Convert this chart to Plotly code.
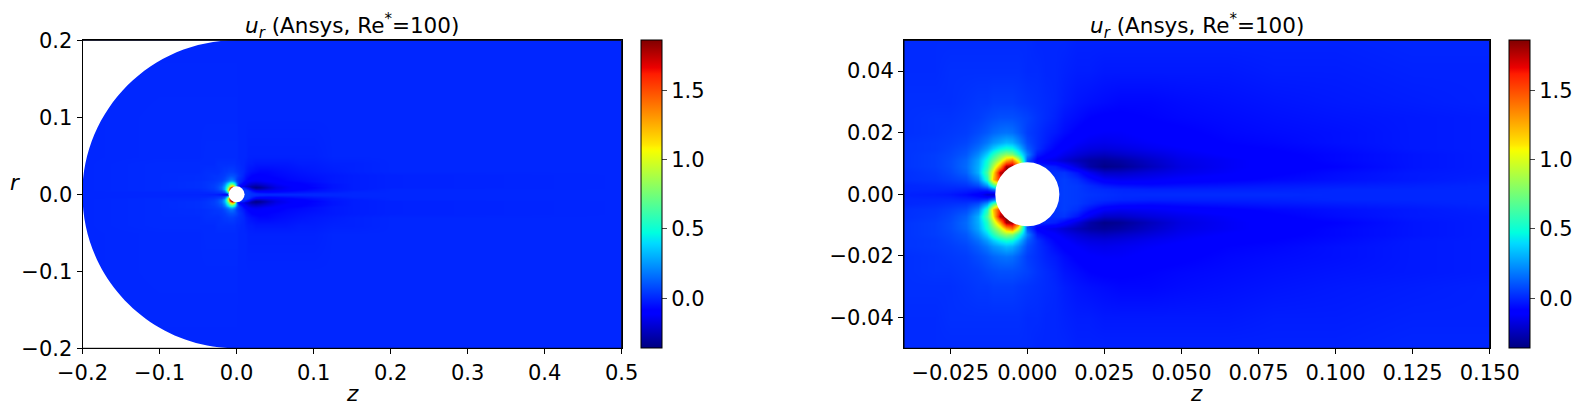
import plotly.graph_objects as go

W, H = 1582, 413

# Axial stations and radial stations (upper half; the field is mirrored about r=0)
z_stations = [-0.2, -0.1, -0.05, -0.04, -0.03, -0.025, -0.02, -0.016, -0.013, -0.011, -0.009, -0.007,
              -0.005, -0.003, 0, 0.003, 0.006, 0.009, 0.012, 0.016, 0.02, 0.025, 0.03, 0.04, 0.05,
              0.065, 0.08, 0.1, 0.125, 0.15, 0.2, 0.5]
r_stations = [0, 0.0015, 0.003, 0.005, 0.007, 0.009, 0.011, 0.013, 0.015, 0.017, 0.02, 0.025, 0.03,
              0.04, 0.05, 0.1, 0.2]

u_r0000 = [0, 0, -.005, -.01, -.02, -.03, -.06, -.1, -.2, -.22, -.2, -.2, -.2, -.2, 0, 0, 0, .03, .05, .04, .03, .02, .01, .01, .01, .01, .01, 0, 0, 0, 0, 0]
u_r0015 = [0, 0, 0, 0, 0, 0, -.01, -.02, .02, .15, .25, .3, .3, .2, 0, 0, 0, .03, .05, .04, .02, .01, 0, -.01, -.01, -.01, -.01, 0, 0, 0, 0, 0]
u_r0030 = [0, 0, 0, 0, .01, .02, .03, .08, .25, .6, .9, .9, .6, .2, 0, 0, 0, .03, .05, .04, .01, -.03, -.05, -.06, -.05, -.04, -.03, -.02, -.01, 0, 0, 0]
u_r0050 = [0, .01, .01, .02, .03, .05, .08, .2, .55, 1.2, 1.6, 1.6, 1, .3, 0, 0, 0, .03, .05, .02, -.05, -.12, -.14, -.13, -.11, -.09, -.07, -.05, -.03, -.01, 0, 0]
u_r0070 = [0, .01, .01, .02, .04, .07, .13, .3, .65, 1.1, 1.75, 1.85, 1.8, .5, 0, 0, 0, .02, .03, -.04, -.14, -.22, -.22, -.18, -.15, -.12, -.09, -.06, -.03, -.02, 0, 0]
u_r0090 = [0, .01, .02, .03, .05, .08, .15, .3, .55, .9, 1.3, 1.8, 1.8, 1.5, 0, 0, 0, -.02, -.08, -.18, -.28, -.34, -.32, -.24, -.17, -.13, -.1, -.08, -.04, -.02, -.01, 0]
u_r0110 = [0, .01, .02, .03, .05, .08, .14, .28, .5, .72, .95, 1.25, 1.4, 1.0, .1, -.1, -.14, -.16, -.2, -.25, -.29, -.31, -.29, -.22, -.16, -.13, -.1, -.07, -.04, -.02, -.01, 0]
u_r0130 = [0, .01, .02, .03, .05, .07, .11, .22, .38, .55, .72, .82, .78, .55, .2, -.03, -.08, -.11, -.15, -.19, -.22, -.24, -.22, -.18, -.14, -.11, -.09, -.07, -.04, -.02, -.01, 0]
u_r0150 = [0, .01, .02, .03, .04, .06, .09, .16, .26, .36, .45, .5, .48, .35, .12, .02, -.04, -.08, -.11, -.15, -.17, -.18, -.17, -.14, -.12, -.09, -.08, -.06, -.03, -.02, -.01, 0]
u_r0170 = [0, .01, .02, .03, .04, .05, .07, .12, .18, .24, .28, .32, .3, .22, .08, .02, -.02, -.06, -.09, -.12, -.14, -.15, -.14, -.12, -.1, -.08, -.07, -.05, -.03, -.02, -.01, 0]
u_r0200 = [0, .01, .015, .02, .03, .04, .05, .08, .11, .14, .16, .17, .16, .12, .05, .02, -.01, -.03, -.06, -.09, -.11, -.12, -.12, -.1, -.09, -.07, -.06, -.05, -.03, -.02, -.01, 0]
u_r0250 = [0, .01, .015, .02, .03, .03, .04, .05, .07, .08, .09, .09, .09, .08, .06, .03, .01, -.01, -.04, -.06, -.08, -.09, -.09, -.08, -.07, -.06, -.05, -.04, -.03, -.02, -.01, 0]
u_r0300 = [0, .01, .01, .02, .02, .02, .03, .04, .04, .05, .05, .05, .05, .04, .03, .02, .01, 0, -.02, -.04, -.05, -.06, -.07, -.07, -.06, -.05, -.04, -.03, -.02, -.01, 0, 0]
u_r0400 = [0, .01, .01, .01, .01, .02, .02, .02, .02, .02, .02, .02, .02, .02, .01, .01, 0, 0, -.01, -.02, -.02, -.03, -.03, -.03, -.03, -.03, -.02, -.02, -.01, -.01, 0, 0]
u_r0500 = [0, .005, .005, .01, .01, .01, .01, .01, .01, .01, .01, .01, .01, .01, .01, 0, 0, 0, 0, -.01, -.01, -.01, -.01, -.01, -.01, -.01, -.01, -.01, 0, 0, 0, 0]
u_r1000 = [0, .005, .005, .005, .005, .005, .005, .005, .005, .005, .005, .005, .005, .005, .005, 0, 0, 0, 0, 0, 0, 0, 0, 0, 0, 0, 0, 0, 0, 0, 0, 0]
u_r2000 = [0] * 32

upper_rows = [u_r0000, u_r0015, u_r0030, u_r0050, u_r0070, u_r0090, u_r0110, u_r0130, u_r0150,
              u_r0170, u_r0200, u_r0250, u_r0300, u_r0400, u_r0500, u_r1000, u_r2000]

r_all = [-v for v in r_stations[:0:-1]] + r_stations
u_all = upper_rows[:0:-1] + upper_rows

Z_MIN, Z_MAX = -0.36, 1.86
CYLINDER_R = 0.0104
DOMAIN_R = 0.2
title_text = "<i>u</i><sub><i>r</i></sub> (Ansys, Re<sup>*</sup>=100)"

# matplotlib "jet"
jet = [(0, 0, 0, 127.5), (.11, 0, 0, 255), (.125, 0, 0, 255), (.34, 0, 219, 255), (.35, 0, 229, 246),
       (.375, 0, 255, 223), (.64, 246, 255, 0), (.65, 255, 244, 0), (.66, 255, 231, 0), (.89, 255, 28, 0),
       (.91, 236, 0, 0), (1, 127.5, 0, 0)]
jet = [[p, f"rgb({r},{g},{b})"] for p, r, g, b in jet]

FONT = "DejaVu Sans"
TICK = 21
TITLE = 21.5

ML, MR, MT, MB = 40, 5, 5, 5
PW, PH = W - ML - MR, H - MT - MB
def fx(px):
    return (px - ML) / PW
def fy(py):
    return (H - MB - py) / PH

top, bottom = 40.3, 348.3
ydom = [fy(bottom), fy(top)]
ax1 = (82.5, 621.7)
ax2 = (904.0, 1489.7)
cb1 = 641.0
cb2 = 1509.0

fig = go.Figure()
for cb, xa, ya in [(cb1, "x", "y"), (cb2, "x2", "y2")]:
    fig.add_trace(go.Heatmap(
        x=z_stations, y=r_all, z=u_all, xaxis=xa, yaxis=ya, zmin=Z_MIN, zmax=Z_MAX,
        colorscale=jet, zsmooth="best", hoverinfo="skip",
        colorbar=dict(x=fx(cb), xanchor="left", xpad=0, ypad=0, y=ydom[0], yanchor="bottom",
                      len=ydom[1] - ydom[0], lenmode="fraction", thickness=20.7, thicknessmode="pixels",
                      outlinewidth=1, outlinecolor="black", ticks="outside", ticklen=5, tickwidth=1,
                      tickvals=[0, .5, 1, 1.5], tickformat=".1f", tickfont=dict(size=TICK, family=FONT, color="black")),
    ))

axis_common = dict(showgrid=False, zeroline=False, showline=True, mirror=True, linecolor="black", linewidth=1,
                   ticks="outside", ticklen=5, tickwidth=1, tickcolor="black",
                   tickfont=dict(size=TICK, family=FONT, color="black"))

fig.update_layout(
    width=W, height=H, margin=dict(l=ML, r=MR, t=MT, b=MB, autoexpand=False), paper_bgcolor="white",
    plot_bgcolor="rgb(0,30,255)", showlegend=False,
    xaxis=dict(domain=[fx(ax1[0]), fx(ax1[1])], range=[-0.2, 0.5], dtick=0.1, tick0=0, tickformat=".1f", **axis_common),
    yaxis=dict(domain=ydom, range=[-0.2, 0.2], dtick=0.1, tick0=0, tickformat=".1f", **axis_common),
    xaxis2=dict(domain=[fx(ax2[0]), fx(ax2[1])], range=[-0.04, 0.15], dtick=0.025, tick0=0, tickformat=".3f", anchor="y2", **axis_common),
    yaxis2=dict(domain=ydom, range=[-0.05, 0.05], dtick=0.02, tick0=0, tickformat=".2f", anchor="x2", **axis_common),
)

# white cylinder on both panels
for xr, yr in [("x", "y"), ("x2", "y2")]:
    fig.add_shape(type="circle", xref=xr, yref=yr, x0=-CYLINDER_R, x1=CYLINDER_R, y0=-CYLINDER_R, y1=CYLINDER_R,
                  fillcolor="white", line_width=0, layer="above")

# white corners outside the computational domain on the left panel
R = DOMAIN_R
k = 0.5523 * R
for s in (1, -1):
    fig.add_shape(type="path", xref="x", yref="y", layer="above", fillcolor="white", line_width=0,
                  path=f"M {-R},{s*R} L 0,{s*R} C {-k},{s*R} {-R},{s*k} {-R},0 Z")
for xd, yd in [("x domain", "y domain"), ("x2 domain", "y2 domain")]:
    fig.add_shape(type="rect", xref=xd, yref=yd, x0=0, x1=1, y0=0, y1=1,
                  line=dict(color="black", width=1), fillcolor="rgba(0,0,0,0)", layer="above")

# titles, the z labels and the horizontal r label
for ax in (ax1, ax2):
    fig.add_annotation(xref="paper", yref="paper", x=fx((ax[0] + ax[1]) / 2), y=fy(top + 4), yanchor="bottom", xanchor="center",
                       showarrow=False, text=title_text, font=dict(size=TITLE, family=FONT, color="black"))
    fig.add_annotation(xref="paper", yref="paper", x=fx((ax[0] + ax[1]) / 2), y=fy(393), yanchor="middle", xanchor="center",
                       showarrow=False, text="<i>z</i>", font=dict(size=TITLE, family=FONT, color="black"))
fig.add_annotation(xref="paper", yref="paper", x=fx(15), y=fy(183), xanchor="center", showarrow=False, text="<i>r</i>",
                   font=dict(size=TITLE, family=FONT, color="black"))

fig.write_html("out.html", post_script="document.body.style.margin='0';", config=dict(displayModeBar=False))
